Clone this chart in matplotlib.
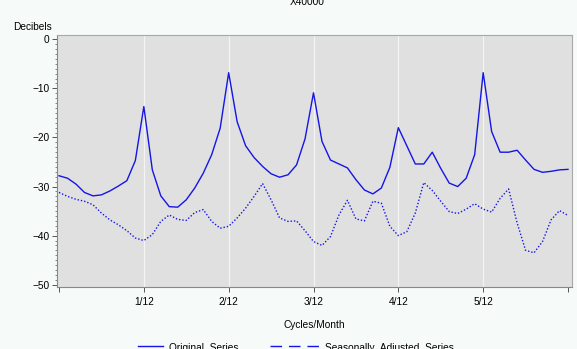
import numpy as np
import matplotlib
matplotlib.use("Agg")
import matplotlib.pyplot as plt
from matplotlib.lines import Line2D
from matplotlib.ticker import MultipleLocator

plt.rcParams['font.family'] = ['Liberation Sans', 'DejaVu Sans']

# spectral density in decibels, one value per 1/120 cycles/month (0 .. 0.5)
original = [-27.8, -28.3, -29.5, -31.2, -31.9, -31.7, -30.9, -29.9, -28.8, -24.7,
            -13.7, -26.6, -31.9, -34.1, -34.2, -32.7, -30.3, -27.3, -23.5, -18.1,
            -6.8, -16.8, -21.7, -24.1, -25.9, -27.4, -28.1, -27.6, -25.6, -20.3,
            -10.9, -20.8, -24.6, -25.4, -26.2, -28.6, -30.7, -31.5, -30.3, -26.1,
            -18.0, -21.7, -25.4, -25.4, -23.0, -26.3, -29.3, -30.0, -28.3, -23.5,
            -6.8, -18.8, -23.0, -23.0, -22.6, -24.6, -26.5, -27.1, -26.9, -26.6,
            -26.5]
adjusted = [-31.2, -32.0, -32.6, -33.0, -33.7, -35.4, -36.8, -37.8, -39.0, -40.5,
            -41.0, -39.8, -37.1, -35.8, -36.7, -36.9, -35.3, -34.7, -37.1, -38.5,
            -38.1, -36.4, -34.4, -32.0, -29.4, -32.7, -36.4, -37.1, -37.0, -39.0,
            -41.2, -42.0, -40.2, -35.8, -32.8, -36.6, -37.0, -33.0, -33.4, -38.1,
            -40.0, -39.2, -35.4, -29.2, -30.8, -33.0, -35.1, -35.5, -34.6, -33.5,
            -34.6, -35.2, -32.4, -30.5, -37.4, -43.0, -43.5, -41.2, -36.8, -34.9,
            -35.9]
freq = np.arange(len(original)) / 120.0

xticks = [0, 1/12, 2/12, 3/12, 4/12, 5/12, 6/12]
xticklabels = ['', '1/12', '2/12', '3/12', '4/12', '5/12', '']
yticks = [-50, -40, -30, -20, -10, 0]
yticklabels = ['\u221250', '\u221240', '\u221230', '\u221220', '\u221210', '0']

blue = '#1515e6'
fs = 7.3

fig = plt.figure(figsize=(5.77, 3.49), dpi=100, facecolor='#f6faf8')
ax = fig.add_axes([57/577, 1-287/349, (571.5-57)/577, (287-35)/349])
ax.set_facecolor('#e0e0e0')

for t in xticks[1:-1]:
    ax.axvline(t, color='#f4f4f4', lw=0.9, zorder=1)

ax.plot(freq, original, color=blue, lw=1.0, zorder=3)
ax.plot(freq, adjusted, color=blue, lw=1.0, linestyle=(0, (1, 1.4)), zorder=3)

ax.set_xlim(-2/1018, 0.5 + 3.5/1018)
ax.set_ylim(-50.47, 0.88)
ax.set_xticks(xticks)
ax.set_xticklabels(xticklabels, fontsize=fs)
ax.set_yticks(yticks)
ax.set_yticklabels(yticklabels, fontsize=fs)
ax.yaxis.set_minor_locator(MultipleLocator(1))
ax.tick_params(axis='both', which='major', length=3.5, width=0.7, color='#555555', pad=2)
ax.tick_params(axis='y', which='minor', length=1.5, width=0.5, color='#555555')
ax.tick_params(axis='x', which='major', pad=4)

for side in ['top', 'right']:
    ax.spines[side].set_color('#a8a8a8')
for side in ['left', 'bottom']:
    ax.spines[side].set_color('#888888')
for sp in ax.spines.values():
    sp.set_linewidth(0.8)

ax.set_xlabel('Cycles/Month', fontsize=fs, labelpad=9)
fig.text(13/577, 1-30.5/349, 'Decibels', fontsize=fs, ha='left', va='baseline')
fig.text(307/577, 1-5/349, 'X40000', fontsize=fs, ha='center', va='baseline')

# legend at the bottom edge (cut off like the original)
ly = 1 - 345.7/349
ty = 1 - 348/349
fig.add_artist(Line2D([138/577, 163/577], [ly, ly], color=blue, lw=1.0,
                      transform=fig.transFigure))
fig.text(169/577, ty, 'Original  Series', fontsize=fs, ha='left', va='center')
fig.add_artist(Line2D([270/577, 319/577], [ly, ly], color=blue, lw=1.0,
                      linestyle=(0, (8.3, 5)), transform=fig.transFigure))
fig.text(325/577, ty, 'Seasonally  Adjusted  Series', fontsize=fs, ha='left', va='center')

fig.savefig('out.png', dpi=100, facecolor=fig.get_facecolor())
